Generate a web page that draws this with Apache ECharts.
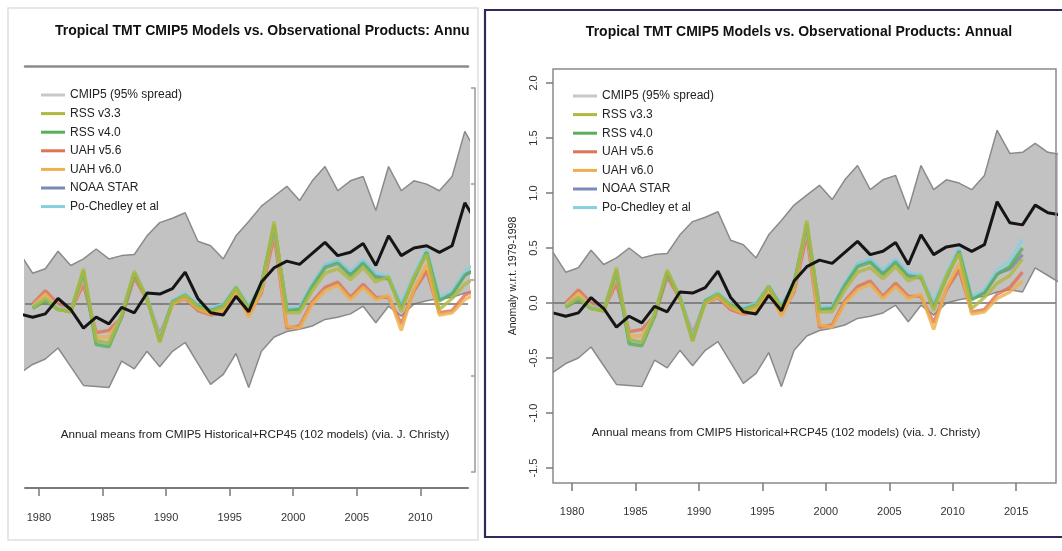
<!DOCTYPE html>
<html><head><meta charset="utf-8">
<script src="https://cdn.jsdelivr.net/npm/echarts@6/dist/echarts.min.js"></script>
<style>html,body{margin:0;padding:0;background:#fff;}#c{width:1062px;height:551px;}</style>
</head><body><div id="c"></div>
<script>
// ---- data (annual means, plotted at mid-year) ----
const modelYears = [1978,1979,1980,1981,1982,1983,1984,1985,1986,1987,1988,1989,1990,1991,1992,1993,1994,1995,1996,1997,1998,1999,2000,2001,2002,2003,2004,2005,2006,2007,2008,2009,2010,2011,2012,2013,2014,2015,2016,2017,2018];
const cmipUpper = [0.46,0.28,0.32,0.48,0.35,0.41,0.50,0.41,0.44,0.45,0.62,0.74,0.78,0.83,0.57,0.53,0.41,0.62,0.75,0.89,0.98,1.07,0.94,1.12,1.25,1.03,1.12,1.16,0.85,1.25,1.03,1.12,1.09,1.03,1.16,1.57,1.36,1.37,1.45,1.37,1.35];
const cmipLower = [-0.63,-0.55,-0.50,-0.40,-0.57,-0.74,-0.75,-0.76,-0.52,-0.59,-0.43,-0.57,-0.43,-0.35,-0.54,-0.73,-0.64,-0.45,-0.76,-0.43,-0.30,-0.25,-0.23,-0.20,-0.14,-0.12,-0.09,-0.02,-0.17,-0.02,-0.11,0.00,0.03,0.05,0.06,0.10,0.12,0.10,0.32,0.25,0.18];
const cmipMean  = [-0.09,-0.12,-0.09,0.05,-0.05,-0.22,-0.12,-0.18,-0.03,-0.08,0.10,0.09,0.14,0.29,0.05,-0.08,-0.10,0.07,-0.07,0.20,0.33,0.39,0.36,0.46,0.56,0.44,0.47,0.55,0.35,0.62,0.44,0.51,0.53,0.47,0.53,0.92,0.73,0.71,0.89,0.82,0.80];

const obsYears = [1979,1980,1981,1982,1983,1984,1985,1986,1987,1988,1989,1990,1991,1992,1993,1994,1995,1996,1997,1998,1999,2000,2001,2002,2003,2004,2005,2006,2007,2008,2009,2010,2011,2012,2013,2014,2015];
const rss33 = [-0.03,0.05,-0.05,-0.07,0.32,-0.33,-0.36,-0.10,0.30,0.05,-0.35,0.01,0.08,-0.03,-0.07,-0.03,0.15,-0.05,0.15,0.75,-0.08,-0.08,0.12,0.28,0.32,0.22,0.33,0.20,0.25,-0.07,0.25,0.45,-0.05,0.05,0.18,0.25,0.40];
const rss40 = [-0.04,0.03,-0.05,-0.07,0.30,-0.37,-0.39,-0.12,0.28,0.05,-0.34,0.02,0.08,-0.02,-0.06,-0.02,0.15,-0.04,0.18,0.72,-0.06,-0.05,0.16,0.33,0.37,0.26,0.37,0.24,0.23,-0.04,0.23,0.47,0.03,0.09,0.26,0.33,0.50];
const uah56 = [0.00,0.12,0.00,-0.06,0.18,-0.26,-0.24,-0.12,0.24,0.04,-0.28,0.00,0.05,-0.06,-0.10,-0.08,0.10,-0.10,0.10,0.62,-0.22,-0.20,0.02,0.15,0.20,0.06,0.18,0.06,0.06,-0.18,0.12,0.30,-0.08,-0.06,0.08,0.14,0.28];
const uah60 = [-0.02,0.09,-0.03,-0.08,0.24,-0.30,-0.30,-0.11,0.27,0.04,-0.31,0.00,0.06,-0.04,-0.09,-0.06,0.12,-0.12,0.12,0.68,-0.20,-0.22,0.00,0.12,0.17,0.04,0.15,0.04,0.08,-0.24,0.14,0.36,-0.10,-0.08,0.04,0.10,0.20];
const noaaStar = [-0.03,0.04,-0.04,-0.07,0.28,-0.34,-0.36,-0.10,0.28,0.06,-0.32,0.02,0.09,-0.02,-0.05,-0.01,0.15,-0.03,0.17,0.70,-0.05,-0.04,0.17,0.35,0.39,0.28,0.39,0.26,0.24,-0.02,0.25,0.48,0.04,0.10,0.27,0.31,0.44];
const poChedley = [-0.02,0.05,-0.03,-0.06,0.29,-0.35,-0.37,-0.09,0.29,0.07,-0.31,0.03,0.10,-0.01,-0.04,0.00,0.16,-0.02,0.18,0.71,-0.04,-0.03,0.18,0.36,0.40,0.30,0.40,0.28,0.26,0.00,0.27,0.50,0.06,0.12,0.30,0.38,0.58];

const xTicksLeft = [1980,1985,1990,1995,2000,2005,2010];
const xTicksRight = [1980,1985,1990,1995,2000,2005,2010,2015];
const yTicksRight = [-1.5,-1.0,-0.5,0.0,0.5,1.0,1.5,2.0];

const legendNames = ['CMIP5 (95% spread)','RSS v3.3','RSS v4.0','UAH v5.6','UAH v6.0','NOAA STAR','Po-Chedley et al'];
const titleText = 'Tropical TMT CMIP5 Models vs. Observational Products: Annual';
const titleTextCut = 'Tropical TMT CMIP5 Models vs. Observational Products: Annu';
const noteText = 'Annual means from CMIP5 Historical+RCP45 (102 models) (via. J. Christy)';
const yName = 'Anomaly w.r.t. 1979-1998';

// ---- helpers ----
const FONT = '"Liberation Sans", Arial, Helvetica, sans-serif';
const pairs = (xs, vs) => xs.map((x, i) => [x + 0.5, vs[i]]);
const obsDefs = [
  {name:'UAH v5.6', data:uah56, color:'#df7356'},
  {name:'UAH v6.0', data:uah60, color:'#eeb04a'},
  {name:'NOAA STAR', data:noaaStar, color:'#7c88b8'},
  {name:'Po-Chedley et al', data:poChedley, color:'#86cfe0'},
  {name:'RSS v4.0', data:rss40, color:'#5aae5a'},
  {name:'RSS v3.3', data:rss33, color:'#b0b83e'}
];

function panelSeries(ax, id) {
  const s = [];
  // upper bound of the 95% spread, filled down to the axis floor
  s.push({
    name: 'CMIP5 (95% spread)', type: 'line', xAxisIndex: ax, yAxisIndex: ax,
    data: pairs(modelYears, cmipUpper), showSymbol: false, symbol: 'none', color: '#c8c8c8',
    lineStyle: {color: '#8a8a8a', width: 1.5}, areaStyle: {color: '#c2c2c2', opacity: 1, origin: 'start'},
    z: 2, silent: true
  });
  // lower bound, white fill below it clears the envelope underside
  s.push({
    name: 'lower' + id, type: 'line', xAxisIndex: ax, yAxisIndex: ax,
    data: pairs(modelYears, cmipLower), showSymbol: false, symbol: 'none', color: '#888',
    lineStyle: {color: '#8a8a8a', width: 1.5}, areaStyle: {color: '#ffffff', opacity: 1, origin: 'start'},
    z: 2, silent: true,
    markLine: {silent: true, symbol: 'none', label: {show: false}, z: 5,
      lineStyle: {color: '#6e6e6e', width: 1.5, type: 'solid'}, data: [{yAxis: 0}]}
  });
  obsDefs.forEach(d => s.push({
    name: d.name, type: 'line', xAxisIndex: ax, yAxisIndex: ax,
    data: pairs(obsYears, d.data), showSymbol: false, symbol: 'none', color: d.color,
    lineStyle: {color: d.color, width: 3.4, opacity: 0.82}, z: 6, silent: true
  }));
  s.push({
    name: 'mean' + id, type: 'line', xAxisIndex: ax, yAxisIndex: ax,
    data: pairs(modelYears, cmipMean), showSymbol: false, symbol: 'none', color: '#111',
    lineStyle: {color: '#151515', width: 3}, z: 7, silent: true
  });
  return s;
}

const chart = echarts.init(document.getElementById('c'), null, {renderer: 'canvas'});
const legendCommon = {
  orient: 'vertical', icon: 'rect', itemWidth: 24, itemHeight: 3, itemGap: 4.6,
  data: legendNames, selectedMode: false, z: 20,
  textStyle: {fontFamily: FONT, fontSize: 12, color: '#222', lineHeight: 14}
};

chart.setOption({
  animation: false,
  backgroundColor: '#ffffff',
  grid: [
    {left: 25, top: 66, width: 443, height: 422, show: false},
    {left: 553, top: 69, width: 503, height: 414, show: true, borderColor: '#8a8a8a', borderWidth: 1.5, backgroundColor: 'transparent', z: 10},
    {left: 475, top: 88, width: 1, height: 384, show: false}
  ],
  xAxis: [
    {type: 'value', gridIndex: 0, min: 1978.9, max: 2013.75, position: 'bottom', z: 10,
      axisLine: {show: true, onZero: false, lineStyle: {color: '#7a7a7a', width: 2}},
      axisTick: {show: true, customValues: xTicksLeft, length: 8, lineStyle: {color: '#7a7a7a', width: 1.5}},
      axisLabel: {show: true, customValues: xTicksLeft, margin: 24, color: '#333', fontSize: 11, fontFamily: FONT, formatter: v => String(v)},
      splitLine: {show: false}},
    {type: 'value', gridIndex: 1, min: 1978.5, max: 2018.14, position: 'bottom', z: 10,
      axisLine: {show: false, onZero: false},
      axisTick: {show: true, customValues: xTicksRight, length: 8, lineStyle: {color: '#7a7a7a', width: 1.5}},
      axisLabel: {show: true, customValues: xTicksRight, margin: 23, color: '#333', fontSize: 11, fontFamily: FONT, formatter: v => String(v)},
      splitLine: {show: false}},
    {type: 'value', gridIndex: 2, show: false, min: 0, max: 1, axisLine: {onZero: false}},
    {type: 'value', gridIndex: 0, min: 1978.9, max: 2013.75, position: 'top', z: 10,
      axisLine: {show: true, onZero: false, lineStyle: {color: '#8c8c8c', width: 2.5}},
      axisTick: {show: false}, axisLabel: {show: false}, splitLine: {show: false}}
  ],
  yAxis: [
    {type: 'value', gridIndex: 0, min: -1.673, max: 2.164, show: false, splitLine: {show: false}, axisLine: {onZero: false}},
    {type: 'value', gridIndex: 1, min: -1.636, max: 2.127, z: 10,
      name: yName, nameLocation: 'middle', nameRotate: 90, nameGap: 34,
      nameTextStyle: {fontFamily: FONT, fontSize: 10.5, color: '#222'},
      axisLine: {show: false, onZero: false},
      axisTick: {show: true, customValues: yTicksRight, length: 7, lineStyle: {color: '#7a7a7a', width: 1.5}},
      axisLabel: {show: true, customValues: yTicksRight, rotate: 90, margin: 14, color: '#333', fontSize: 11, fontFamily: FONT, formatter: v => v.toFixed(1)},
      splitLine: {show: false}},
    {type: 'value', gridIndex: 2, min: 0, max: 4, interval: 1, position: 'left',
      axisLine: {show: true, onZero: false, lineStyle: {color: '#9a9a9a', width: 1.5}},
      axisTick: {show: true, length: 4, lineStyle: {color: '#9a9a9a', width: 1.5}},
      axisLabel: {show: false}, splitLine: {show: false}}
  ],
  legend: [
    Object.assign({left: 36, top: 83}, legendCommon),
    Object.assign({left: 568, top: 84}, legendCommon)
  ],
  series: panelSeries(0, 'L').concat(panelSeries(1, 'R')),
  graphic: [
    {type: 'rect', shape: {x: 8, y: 8, width: 470, height: 532}, style: {fill: 'none', stroke: '#e0e0e0', lineWidth: 1.5}, z: -10, silent: true},
    {type: 'rect', shape: {x: 485, y: 10, width: 600, height: 527}, style: {fill: 'none', stroke: '#2c2c5a', lineWidth: 2.2}, z: 100, silent: true},
    {type: 'text', x: 55, y: 31, silent: true, z: 100,
      style: {text: titleTextCut, fill: '#111', font: 'bold 14px ' + FONT, textAlign: 'left', textVerticalAlign: 'middle', align: 'left', verticalAlign: 'middle'}},
    {type: 'text', x: 799, y: 32, silent: true, z: 100,
      style: {text: titleText, fill: '#111', font: 'bold 14px ' + FONT, textAlign: 'center', textVerticalAlign: 'middle', align: 'center', verticalAlign: 'middle'}},
    {type: 'text', x: 255, y: 435, silent: true, z: 100,
      style: {text: noteText, fill: '#222', font: '11.7px ' + FONT, textAlign: 'center', textVerticalAlign: 'middle', align: 'center', verticalAlign: 'middle'}},
    {type: 'text', x: 786, y: 433, silent: true, z: 100,
      style: {text: noteText, fill: '#222', font: '11.7px ' + FONT, textAlign: 'center', textVerticalAlign: 'middle', align: 'center', verticalAlign: 'middle'}}
  ]
});
</script>
</body></html>
